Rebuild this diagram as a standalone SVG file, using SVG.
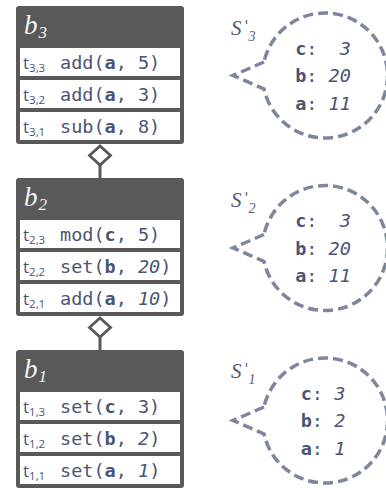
<svg xmlns="http://www.w3.org/2000/svg" width="386" height="488" viewBox="0 0 386 488">
<style>
.blk{fill:#595959}
.row{fill:#ffffff}
.hdr{font-family:"Liberation Serif",serif;font-style:italic;font-size:27px;fill:#f4f4f4}
.hsub{font-size:17px}
.code{font-family:"DejaVu Sans Mono",monospace;font-size:18.5px;fill:#4b5573}
.tl{font-family:"Open Sans",sans-serif;font-size:17px;fill:#4b5573}
.tsub{font-size:11.5px}
.b{font-weight:bold}
.i{font-style:italic}
.bub{fill:#ffffff;stroke:#7d869c;stroke-width:3.5;stroke-dasharray:10 5}
.lbl{font-family:"Liberation Serif",serif;font-style:italic;font-size:21px;fill:#4f5a78}
.pr{font-family:"DejaVu Sans",sans-serif;font-style:normal;font-size:14px}
.lsub{font-size:14px}
.val{font-family:"DejaVu Sans Mono",monospace;font-size:18.5px;fill:#4b5573}
.conn{stroke:#595959;stroke-width:3;fill:none}
.dia{fill:#ffffff;stroke:#595959;stroke-width:2.8}
</style>
<defs>
<marker id="diamond" markerUnits="userSpaceOnUse" orient="auto" refX="0" refY="0" markerWidth="24" markerHeight="24" overflow="visible">
<path class="dia" d="M0,0 L-9.5,-10.5 L-19,0 L-9.5,10.5 Z"/>
</marker>
</defs>

<g id="connectors">
<path class="conn" d="M100,178 L100,146" marker-end="url(#diamond)"/>
<path class="conn" d="M100,350 L100,318" marker-end="url(#diamond)"/>
</g>

<g id="b3">
<rect class="blk" x="16" y="6" width="168" height="138" rx="3"/>
<text class="hdr" x="24" y="34">b<tspan class="hsub" dx="1" dy="4">3</tspan></text>
<rect class="row" x="20" y="48" width="160" height="28"/>
<rect class="row" x="20" y="80" width="160" height="28"/>
<rect class="row" x="20" y="112" width="160" height="28"/>
<text class="tl" x="23" y="68.5">t<tspan class="tsub" dy="3">3,3</tspan></text>
<text class="code" x="60" y="68.5">add(<tspan class="b">a</tspan>, 5)</text>
<text class="tl" x="23" y="100.5">t<tspan class="tsub" dy="3">3,2</tspan></text>
<text class="code" x="60" y="100.5">add(<tspan class="b">a</tspan>, 3)</text>
<text class="tl" x="23" y="132.5">t<tspan class="tsub" dy="3">3,1</tspan></text>
<text class="code" x="60" y="132.5">sub(<tspan class="b">a</tspan>, 8)</text>
</g>

<g id="b2">
<rect class="blk" x="16" y="178" width="168" height="138" rx="3"/>
<text class="hdr" x="24" y="206">b<tspan class="hsub" dx="1" dy="4">2</tspan></text>
<rect class="row" x="20" y="220" width="160" height="28"/>
<rect class="row" x="20" y="252" width="160" height="28"/>
<rect class="row" x="20" y="284" width="160" height="28"/>
<text class="tl" x="23" y="240.5">t<tspan class="tsub" dy="3">2,3</tspan></text>
<text class="code" x="60" y="240.5">mod(<tspan class="b">c</tspan>, 5)</text>
<text class="tl" x="23" y="272.5">t<tspan class="tsub" dy="3">2,2</tspan></text>
<text class="code" x="60" y="272.5">set(<tspan class="b">b</tspan>, <tspan class="i">20</tspan>)</text>
<text class="tl" x="23" y="304.5">t<tspan class="tsub" dy="3">2,1</tspan></text>
<text class="code" x="60" y="304.5">add(<tspan class="b">a</tspan>, <tspan class="i">10</tspan>)</text>
</g>

<g id="b1">
<rect class="blk" x="16" y="350" width="168" height="138" rx="3"/>
<text class="hdr" x="24" y="378">b<tspan class="hsub" dx="1" dy="4">1</tspan></text>
<rect class="row" x="20" y="392" width="160" height="28"/>
<rect class="row" x="20" y="424" width="160" height="28"/>
<rect class="row" x="20" y="456" width="160" height="28"/>
<text class="tl" x="23" y="412.5">t<tspan class="tsub" dy="3">1,3</tspan></text>
<text class="code" x="60" y="412.5">set(<tspan class="b">c</tspan>, 3)</text>
<text class="tl" x="23" y="444.5">t<tspan class="tsub" dy="3">1,2</tspan></text>
<text class="code" x="60" y="444.5">set(<tspan class="b">b</tspan>, <tspan class="i">2</tspan>)</text>
<text class="tl" x="23" y="476.5">t<tspan class="tsub" dy="3">1,1</tspan></text>
<text class="code" x="60" y="476.5">set(<tspan class="b">a</tspan>, <tspan class="i">1</tspan>)</text>
</g>

<g id="s3">
<path class="bub" d="M264,62 L233,75.5 L264,89 A62.5,62.5 0 1 0 264,62 Z"/>
<text class="lbl" x="231" y="35">S</text>
<text class="lbl pr" x="244.5" y="30">'</text>
<text class="lbl lsub" x="248.5" y="41">3</text>
<text class="val" x="323" y="54.5" text-anchor="middle" xml:space="preserve" style="white-space:pre"><tspan class="b">c</tspan>:  <tspan class="i">3</tspan></text>
<text class="val" x="323" y="82" text-anchor="middle" xml:space="preserve" style="white-space:pre"><tspan class="b">b</tspan>: <tspan class="i">20</tspan></text>
<text class="val" x="323" y="109.5" text-anchor="middle" xml:space="preserve" style="white-space:pre"><tspan class="b">a</tspan>: <tspan class="i">11</tspan></text>
</g>

<g id="s2">
<path class="bub" d="M264,234.5 L233,248 L264,261.5 A62.5,62.5 0 1 0 264,234.5 Z"/>
<text class="lbl" x="231" y="207">S</text>
<text class="lbl pr" x="244.5" y="202">'</text>
<text class="lbl lsub" x="248.5" y="213">2</text>
<text class="val" x="323" y="227" text-anchor="middle" xml:space="preserve" style="white-space:pre"><tspan class="b">c</tspan>:  <tspan class="i">3</tspan></text>
<text class="val" x="323" y="254.5" text-anchor="middle" xml:space="preserve" style="white-space:pre"><tspan class="b">b</tspan>: <tspan class="i">20</tspan></text>
<text class="val" x="323" y="282" text-anchor="middle" xml:space="preserve" style="white-space:pre"><tspan class="b">a</tspan>: <tspan class="i">11</tspan></text>
</g>

<g id="s1">
<path class="bub" d="M264,407 L233,420.5 L264,434 A62.5,62.5 0 1 0 264,407 Z"/>
<text class="lbl" x="231" y="378">S</text>
<text class="lbl pr" x="244.5" y="373">'</text>
<text class="lbl lsub" x="248.5" y="384">1</text>
<text class="val" x="323" y="399.5" text-anchor="middle" xml:space="preserve" style="white-space:pre"><tspan class="b">c</tspan>: <tspan class="i">3</tspan></text>
<text class="val" x="323" y="427" text-anchor="middle" xml:space="preserve" style="white-space:pre"><tspan class="b">b</tspan>: <tspan class="i">2</tspan></text>
<text class="val" x="323" y="454.5" text-anchor="middle" xml:space="preserve" style="white-space:pre"><tspan class="b">a</tspan>: <tspan class="i">1</tspan></text>
</g>
</svg>
